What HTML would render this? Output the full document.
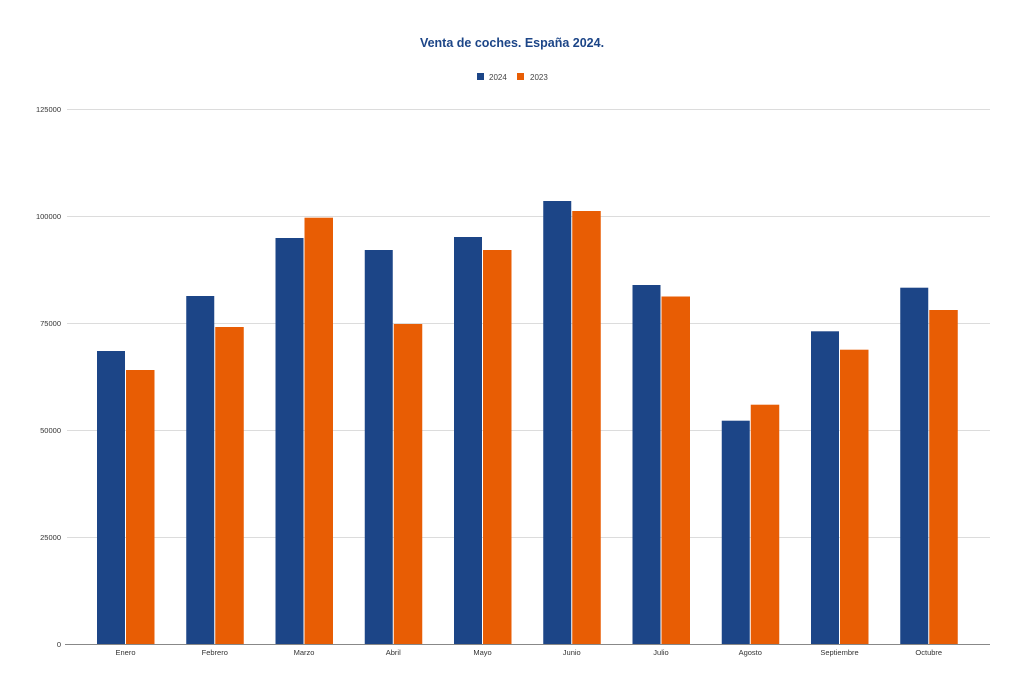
<!DOCTYPE html>
<html><head><meta charset="utf-8"><style>body{margin:0;background:#fff}</style></head>
<body>
<svg width="1024" height="692" xmlns="http://www.w3.org/2000/svg" font-family="Liberation Sans, sans-serif">
<rect width="1024" height="692" fill="#fff"/>
<text x="512" y="47" text-anchor="middle" font-size="12.5" font-weight="bold" fill="#1c4587">Venta de coches. España 2024.</text>
<rect x="477" y="73" width="7" height="7" fill="#1c4587"/>
<text x="489" y="80" font-size="8" fill="#444">2024</text>
<rect x="517" y="73" width="7" height="7" fill="#e85d04"/>
<text x="530" y="80" font-size="8" fill="#444">2023</text>
<g stroke="#dcdcdc" stroke-width="1">
<line x1="67" y1="109.5" x2="990" y2="109.5"/>
<line x1="67" y1="216.5" x2="990" y2="216.5"/>
<line x1="67" y1="323.5" x2="990" y2="323.5"/>
<line x1="67" y1="430.5" x2="990" y2="430.5"/>
<line x1="67" y1="537.5" x2="990" y2="537.5"/>
</g>
<g font-size="7.5" fill="#333" text-anchor="end">
<text x="61" y="112">125000</text>
<text x="61" y="219">100000</text>
<text x="61" y="326">75000</text>
<text x="61" y="433">50000</text>
<text x="61" y="540">25000</text>
<text x="61" y="647">0</text>
</g>
<g fill="#1c4587">
<rect x="97" y="351" width="28" height="293"/>
<rect x="186.25" y="296" width="28" height="348"/>
<rect x="275.5" y="238" width="28" height="406"/>
<rect x="364.75" y="250" width="28" height="394"/>
<rect x="454" y="237" width="28" height="407"/>
<rect x="543.25" y="201" width="28" height="443"/>
<rect x="632.5" y="285" width="28" height="359"/>
<rect x="721.75" y="420.7" width="28" height="223.3"/>
<rect x="811" y="331.3" width="28" height="312.7"/>
<rect x="900.25" y="287.7" width="28" height="356.3"/>
</g>
<g fill="#e85d04">
<rect x="126" y="370" width="28.5" height="274"/>
<rect x="215.25" y="327" width="28.5" height="317"/>
<rect x="304.5" y="217.7" width="28.5" height="426.3"/>
<rect x="393.75" y="324" width="28.5" height="320"/>
<rect x="483" y="250" width="28.5" height="394"/>
<rect x="572.25" y="211" width="28.5" height="433"/>
<rect x="661.5" y="296.5" width="28.5" height="347.5"/>
<rect x="750.75" y="404.7" width="28.5" height="239.3"/>
<rect x="840" y="349.7" width="28.5" height="294.3"/>
<rect x="929.25" y="310" width="28.5" height="334"/>
</g>
<line x1="65" y1="644.5" x2="990" y2="644.5" stroke="#888" stroke-width="1"/>
<g font-size="7.5" fill="#333" text-anchor="middle">
<text x="125.5" y="655">Enero</text>
<text x="214.75" y="655">Febrero</text>
<text x="304" y="655">Marzo</text>
<text x="393.25" y="655">Abril</text>
<text x="482.5" y="655">Mayo</text>
<text x="571.75" y="655">Junio</text>
<text x="661" y="655">Julio</text>
<text x="750.25" y="655">Agosto</text>
<text x="839.5" y="655">Septiembre</text>
<text x="928.75" y="655">Octubre</text>
</g>
</svg>
</body></html>
